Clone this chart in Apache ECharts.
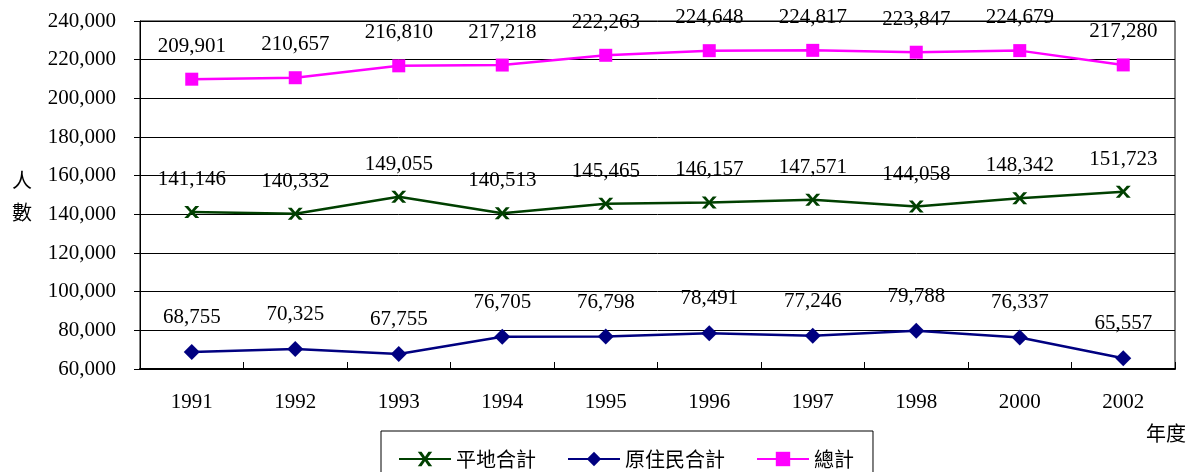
<!DOCTYPE html>
<html><head><meta charset="utf-8">
<script src="https://cdn.jsdelivr.net/npm/echarts@6/dist/echarts.min.js"></script>
<style>html,body{margin:0;padding:0;background:#fff}#c{width:1193px;height:472px}</style>
</head><body><div id="c"></div>
<script>
const years = ['1991','1992','1993','1994','1995','1996','1997','1998','2000','2002'];
const plains = [141146,140332,149055,140513,145465,146157,147571,144058,148342,151723];
const indigenous = [68755,70325,67755,76705,76798,78491,77246,79788,76337,65557];
const total = [209901,210657,216810,217218,222263,224648,224817,223847,224679,217280];
const seriesNames = ['平地合計','原住民合計','總計'];

const fmt = v => v.toLocaleString('en-US');
const serif = '"Liberation Serif","Times New Roman",serif';
const cjk = '"Noto Sans CJK TC","Noto Sans CJK SC",sans-serif';
const crossPath = 'path://M0,0 L2.6,0 L5,2.8 L7.4,0 L10,0 L6.3,4 L10,8 L7.4,8 L5,5.2 L2.6,8 L0,8 L3.7,4 Z';

const chart = echarts.init(document.getElementById('c'), null, {renderer:'canvas'});
const lbl = {show:true, position:'top', distance:16, formatter:p=>fmt(p.value), fontFamily:serif, fontSize:21, color:'#000'};
chart.setOption({
  animation:false,
  grid:{left:140, right:18, top:21, bottom:103, show:true, borderColor:'#000', borderWidth:1},
  legend:{
    left:381, top:431,
    data:seriesNames,
    borderColor:'#000', borderWidth:1, padding:[18,19,30,17],
    itemWidth:52, itemHeight:18, itemGap:31,
    textStyle:{fontFamily:cjk, fontSize:20, color:'#000'}
  },
  xAxis:{
    type:'category', data:years, boundaryGap:true,
    axisLine:{lineStyle:{color:'#000', width:2}},
    axisTick:{show:true, inside:true, length:7, lineStyle:{color:'#000'}},
    axisLabel:{fontFamily:serif, fontSize:21, color:'#000', margin:23}
  },
  yAxis:{
    type:'value', min:60000, max:240000, interval:20000,
    axisLine:{show:true, lineStyle:{color:'#000', width:1}},
    axisTick:{show:true, length:6, lineStyle:{color:'#000'}},
    splitLine:{show:true, lineStyle:{color:'#000', width:1}},
    axisLabel:{fontFamily:serif, fontSize:21, color:'#000', margin:24, formatter:v=>fmt(v)}
  },
  graphic:[
    {type:'text', left:12, top:170, style:{text:'人', font:'20px '+cjk, fill:'#000'}},
    {type:'text', left:12, top:202, style:{text:'數', font:'20px '+cjk, fill:'#000'}},
    {type:'text', left:1146, top:423, style:{text:'年度', font:'20px '+cjk, fill:'#000'}}
  ],
  series:[
    {name:seriesNames[0], type:'line', data:plains, symbol:crossPath, symbolSize:[15,12],
     itemStyle:{color:'#004000'}, lineStyle:{color:'#004000', width:2.5}, label:lbl},
    {name:seriesNames[1], type:'line', data:indigenous, symbol:'diamond', symbolSize:16,
     itemStyle:{color:'#000080'}, lineStyle:{color:'#000080', width:2.5}, label:lbl},
    {name:seriesNames[2], type:'line', data:total, symbol:'rect', symbolSize:13,
     itemStyle:{color:'#FF00FF'}, lineStyle:{color:'#FF00FF', width:2.5}, label:lbl}
  ]
});
</script></body></html>
